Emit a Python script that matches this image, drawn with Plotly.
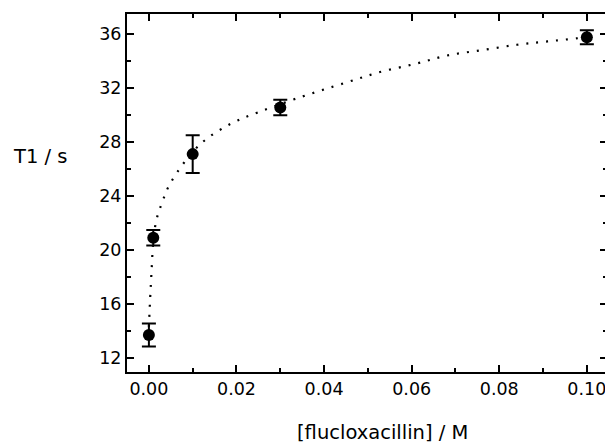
import plotly.graph_objects as go

# measured data
conc = [0.0, 0.001, 0.01, 0.03, 0.10]
t1 = [13.7, 20.9, 27.1, 30.55, 35.75]
t1_err = [0.85, 0.57, 1.4, 0.57, 0.52]

# dotted fit curve
fit_x = [0.0, 0.0003, 0.0006, 0.001, 0.0017, 0.003, 0.005, 0.0116, 0.019, 0.025,
         0.0335, 0.045, 0.053, 0.061, 0.068, 0.076, 0.084, 0.091, 0.1]
fit_y = [14.3, 16.5, 18.4, 20.6, 22.2, 23.5, 25.0, 27.8, 29.4, 30.2,
         31.2, 32.4, 33.2, 33.8, 34.4, 34.8, 35.2, 35.45, 35.75]

x_ticks = [0.0, 0.02, 0.04, 0.06, 0.08, 0.10]
x_labels = ["0.00", "0.02", "0.04", "0.06", "0.08", "0.10"]
y_ticks = [12, 16, 20, 24, 28, 32, 36]

font = "DejaVu Sans, Arial, sans-serif"

fig = go.Figure()
fig.add_trace(go.Scatter(x=fit_x, y=fit_y, mode="lines",
                         line=dict(color="black", width=2.2, dash="2px,8px", shape="spline"),
                         hoverinfo="skip"))
fig.add_trace(go.Scatter(x=conc, y=t1, mode="markers",
                         marker=dict(color="black", size=12),
                         error_y=dict(type="data", array=t1_err, color="black", thickness=2, width=7)))

axis_common = dict(showline=True, linecolor="black", linewidth=2, mirror="ticks", ticks="inside",
                   ticklen=7, tickwidth=2, tickcolor="black", showgrid=False, zeroline=False,
                   tickfont=dict(family=font, size=17.5, color="black"))

fig.update_xaxes(range=[-0.005, 0.1046], tickvals=x_ticks, ticktext=x_labels,
                 minor=dict(ticks="inside", ticklen=4, tickwidth=2, dtick=0.01, tick0=0, tickcolor="black"),
                 **axis_common)
fig.update_yaxes(range=[10.96, 37.48], tickvals=y_ticks,
                 minor=dict(ticks="inside", ticklen=4, tickwidth=2, dtick=2, tick0=0, tickcolor="black"),
                 **axis_common)

fig.add_annotation(text="T1 / s", xref="paper", yref="paper", x=-0.2427, y=0.6006, showarrow=False,
                   xanchor="left", yanchor="middle", font=dict(family=font, size=19.5, color="black"))
fig.add_annotation(text="[flucloxacillin] / M", xref="paper", yref="paper", x=0.533, y=-0.17,
                   showarrow=False, xanchor="center", yanchor="middle",
                   font=dict(family=font, size=19.5, color="black"))

fig.update_layout(width=603, height=437, margin=dict(l=119, r=2, t=6, b=73),
                  plot_bgcolor="white", paper_bgcolor="white", showlegend=False)

fig.write_html("out.html")
